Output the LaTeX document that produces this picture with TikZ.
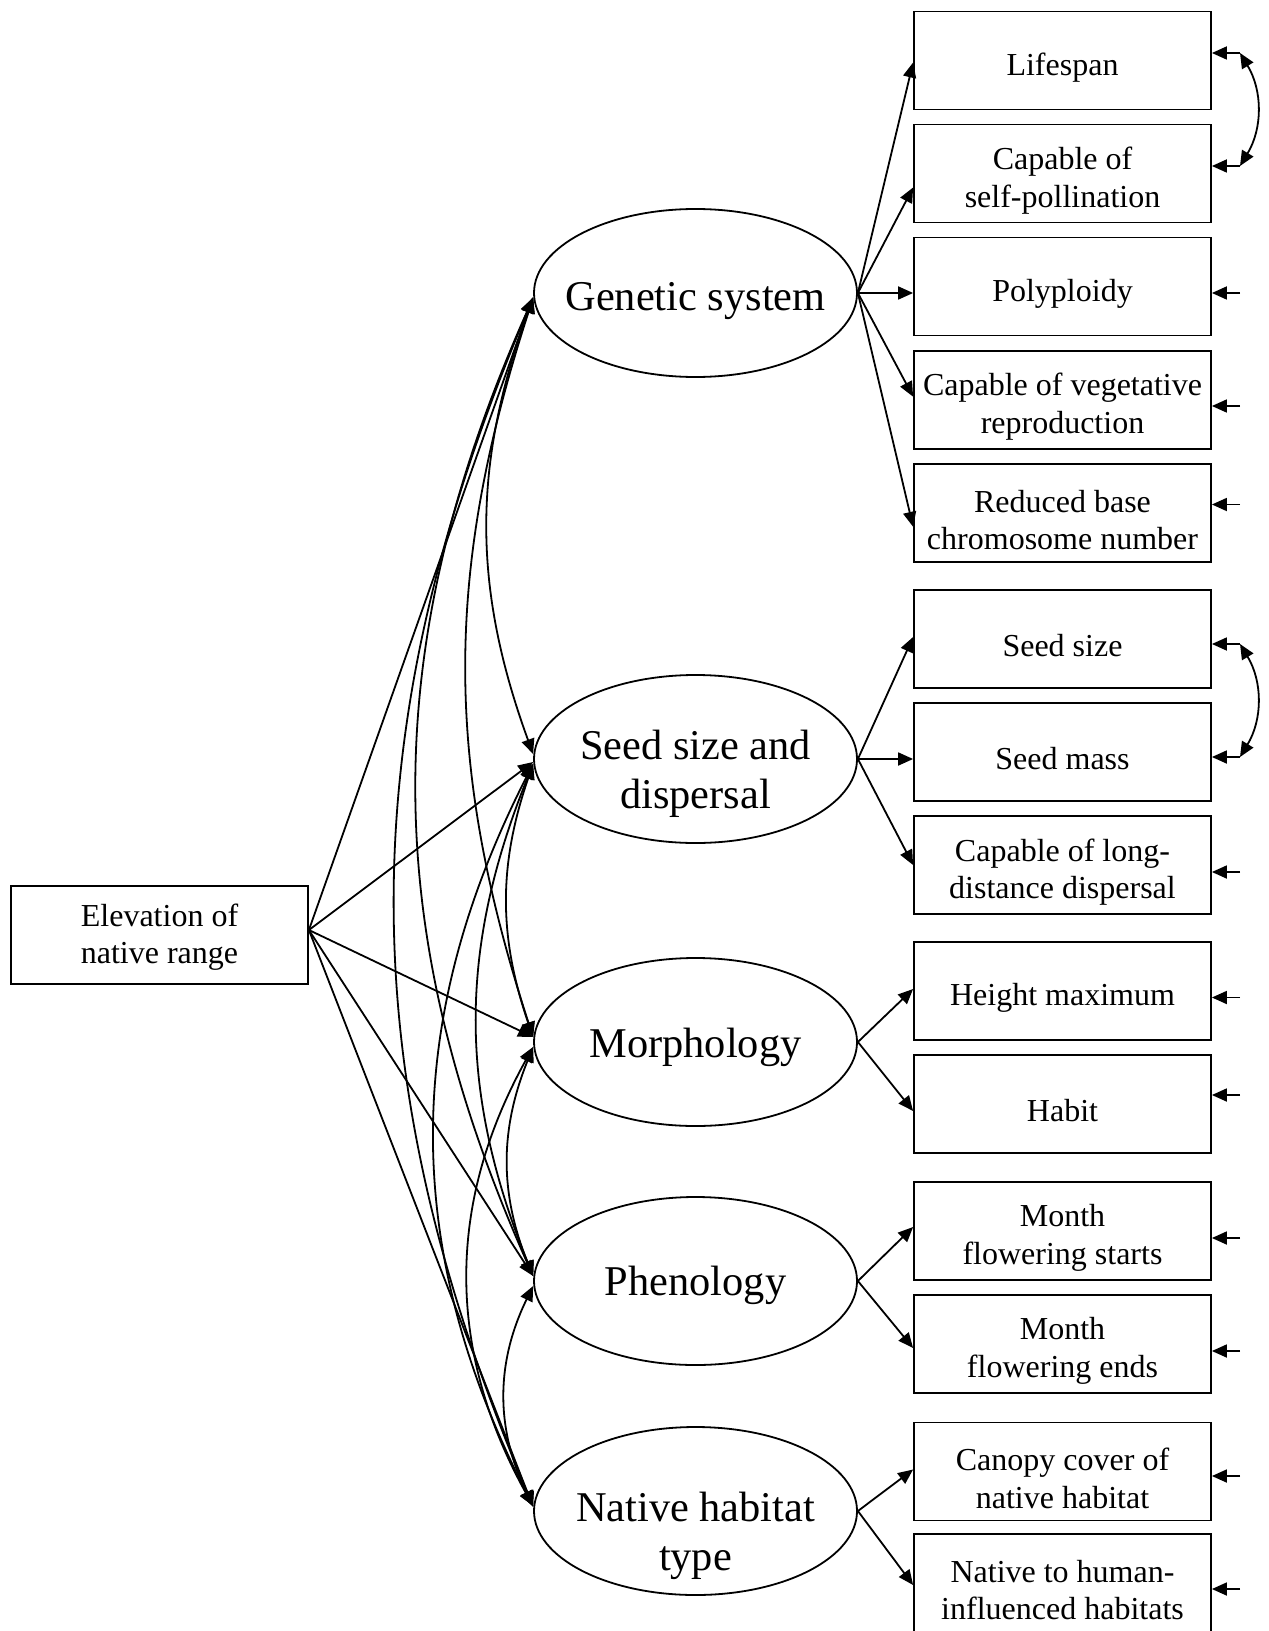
\documentclass[tikz,border=0pt]{standalone}
\usepackage{fontspec}
\setmainfont{Liberation Serif}
\usetikzlibrary{arrows.meta,shapes.geometric,calc}
\tikzset{
  ind/.style={draw,line width=0.9pt,minimum width=148.5pt,minimum height=49pt,inner sep=0pt},
  boxtxt/.style={align=center,inner sep=0pt,yshift=-3.5pt,font=\fontsize{16}{18.7}\selectfont},
  lat/.style={draw,ellipse,line width=0.9pt,minimum width=161.5pt,minimum height=84pt,inner sep=0pt},
  lattxt/.style={align=center,inner sep=0pt,font=\fontsize{21.2}{24.5}\selectfont},
  tip/.style={},
  arr/.style={line width=0.9pt,-{Triangle[length=7.5pt,width=6.5pt]}},
  cov/.style={line width=0.9pt,{Triangle[length=7.5pt,width=6.5pt]}-{Triangle[length=7.5pt,width=6.5pt]}}
}
\begin{document}
\begin{tikzpicture}[x=0.5pt,y=-0.5pt]
\useasboundingbox (0,0) rectangle (1268,1631);
% exogenous
\node[ind,label={[boxtxt,yshift=2.5pt]center:{Elevation of\\native range}}] (E) at (159.5,935) {};
% latents
\node[lat,label={[lattxt,yshift=-4pt]center:{Genetic system}}] (GS) at (695.5,293) {};
\node[lat,label={[lattxt,yshift=-7.5pt]center:{Seed size and\\dispersal}}] (SS) at (695.5,759) {};
\node[lat,label={[lattxt,yshift=-2.5pt]center:{Morphology}}] (M) at (695.5,1042) {};
\node[lat,label={[lattxt,yshift=-2pt]center:{Phenology}}] (P) at (695.5,1281) {};
\node[lat,label={[lattxt,yshift=-12.6pt]center:{Native habitat\\type}}] (N) at (695.5,1511) {};
% indicators
\node[ind,label={[boxtxt]center:{Lifespan}}] (L1) at (1062.5,60.5) {};
\node[ind,label={[boxtxt]center:{Capable of\\self-pollination}}] (L2) at (1062.5,173.5) {};
\node[ind,label={[boxtxt]center:{Polyploidy}}] (L3) at (1062.5,286.6) {};
\node[ind,label={[boxtxt]center:{Capable of vegetative\\reproduction}}] (L4) at (1062.5,399.7) {};
\node[ind,label={[boxtxt]center:{Reduced base\\chromosome number}}] (L5) at (1062.5,512.8) {};
\node[ind,label={[boxtxt]center:{Seed size}}] (S1) at (1062.5,639) {};
\node[ind,label={[boxtxt]center:{Seed mass}}] (S2) at (1062.5,752) {};
\node[ind,label={[boxtxt]center:{Capable of long-\\distance dispersal}}] (S3) at (1062.5,865) {};
\node[ind,label={[boxtxt]center:{Height maximum}}] (M1) at (1062.5,991) {};
\node[ind,label={[boxtxt]center:{Habit}}] (M2) at (1062.5,1104) {};
\node[ind,label={[boxtxt]center:{Month\\flowering starts}}] (P1) at (1062.5,1231) {};
\node[ind,label={[boxtxt]center:{Month\\flowering ends}}] (P2) at (1062.5,1344) {};
\node[ind,label={[boxtxt]center:{Canopy cover of\\native habitat}}] (N1) at (1062.5,1471.5) {};
\node[ind,label={[boxtxt]center:{Native to human-\\influenced habitats}}] (N2) at (1062.5,1583) {};
% error terms
\coordinate (eL1) at (1240,53);
\coordinate (eL2) at (1240,166);
\coordinate (eL3) at (1240,293);
\coordinate (eL4) at (1240,406);
\coordinate (eL5) at (1240,504.5);
\coordinate (eS1) at (1240,644);
\coordinate (eS2) at (1240,757);
\coordinate (eS3) at (1240,872);
\coordinate (eM1) at (1240,997.5);
\coordinate (eM2) at (1240,1095);
\coordinate (eP1) at (1240,1238);
\coordinate (eP2) at (1240,1351);
\coordinate (eN1) at (1240,1476);
\coordinate (eN2) at (1240,1589);
\foreach \b in {L1,L2,L3,L4,L5,S1,S2,S3,M1,M2,P1,P2,N1,N2}
  \draw[arr] (e\b) -- (e\b -| \b.east);
\draw[cov] (eL1) to[bend left=31] (eL2);
\draw[cov] (eS1) to[bend left=31] (eS2);
% loadings
\draw[arr] (GS.east) -- ($(L1.west)+(0,2)$);
\draw[arr] (GS.east) -- ($(L2.west)+(0,14)$);
\draw[arr] (GS.east) -- ($(L3.west)+(0,6.4)$);
\draw[arr] (GS.east) -- ($(L4.west)+(0,-3)$);
\draw[arr] (GS.east) -- ($(L5.west)+(0,14)$);
\draw[arr] (SS.east) -- ($(S1.west)+(0,-2)$);
\draw[arr] (SS.east) -- ($(S2.west)+(0,7)$);
\draw[arr] (SS.east) -- (S3.west);
\draw[arr] (M.east) -- ($(M1.west)+(0,-2)$);
\draw[arr] (M.east) -- ($(M2.west)+(0,7)$);
\draw[arr] (P.east) -- ($(P1.west)+(0,-4)$);
\draw[arr] (P.east) -- ($(P2.west)+(0,4)$);
\draw[arr] (N.east) -- ($(N1.west)+(0,-2)$);
\draw[arr] (N.east) -- ($(N2.west)+(0,2)$);
% regressions from elevation
\coordinate (Eo) at ($(E.east)+(0,-5)$);
\draw[arr] (Eo) -- ($(GS.west)+(0,4)$);
\draw[arr] (Eo) -- ($(SS.west)+(0,3)$);
\draw[arr] (Eo) -- ($(M.west)+(0,-5)$);
\draw[arr] (Eo) -- ($(P.west)+(0,-5)$);
\draw[arr] (Eo) -- ($(N.west)+(0,-4)$);
% covariances among latents
\draw[cov] ($(GS.west)+(0,5)$) to[bend right=20] ($(SS.west)+(0,-5)$);
\draw[cov] ($(GS.west)+(0,5)$) to[bend right=18] ($(M.west)+(0,-5)$);
\draw[cov] ($(GS.west)+(0,5)$) to[bend right=24] ($(P.west)+(0,-5)$);
\draw[cov] ($(GS.west)+(0,5)$) to[bend right=23] ($(N.west)+(0,-5)$);
\draw[cov] ($(SS.west)+(0,5)$) to[bend right=19] ($(M.west)+(0,-5)$);
\draw[cov] ($(SS.west)+(0,5)$) to[bend right=22] ($(P.west)+(0,-5)$);
\draw[cov] ($(SS.west)+(0,5)$) to[bend right=27] ($(N.west)+(0,-5)$);
\draw[cov] ($(M.west)+(0,5)$) to[bend right=22] ($(P.west)+(0,-5)$);
\draw[cov] ($(M.west)+(0,5)$) to[bend right=29] ($(N.west)+(0,-5)$);
\draw[cov] ($(P.west)+(0,5)$) to[bend right=26] ($(N.west)+(0,-5)$);
\end{tikzpicture}
\end{document}
